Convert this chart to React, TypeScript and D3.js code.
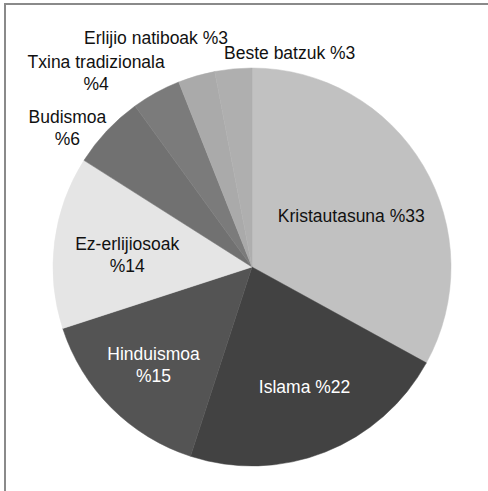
import * as d3 from 'd3';
import React from 'react';

// religions of the world, share in percent
const names = [
    'Kristautasuna',
    'Islama',
    'Hinduismoa',
    'Ez-erlijiosoak',
    'Budismoa',
    'Txina tradizionala',
    'Erlijio natiboak',
    'Beste batzuk',
];
const shares = [33, 22, 15, 14, 6, 4, 3, 3];
const fills = ['#c1c1c1', '#424242', '#545454', '#e5e5e5', '#717171', '#7b7b7b', '#aaaaaa', '#afafaf'];
const labelLines = [
    ['Kristautasuna %33'],
    ['Islama %22'],
    ['Hinduismoa', '%15'],
    ['Ez-erlijiosoak', '%14'],
    ['Budismoa', '%6'],
    ['Txina tradizionala', '%4'],
    ['Erlijio natiboak %3'],
    ['Beste batzuk %3'],
];
const whiteLabels = ['Islama', 'Hinduismoa'];

// label placement in polar form: angle (deg, clockwise from top) and radius factor
const labelAngle = [63, 156.4, 225, 275.5, 306.9, 321.2, 337.3, 10];
const labelRadius = [0.56, 0.66, 0.7, 0.63, 1.16, 1.25, 1.25, 1.09];

const width = 488;
const height = 491;
const cx = 252;
const cy = 267;
const radius = 199;
const fontSize = 17.5;
const lineHeight = 22;

const App = () => {
    const pie = d3.pie<number>().sort(null).value((d) => d);
    const arcs = pie(shares);
    const arc = d3.arc<d3.PieArcDatum<number>>().innerRadius(0).outerRadius(radius);

    return (
        <svg
            width={width}
            height={height}
            style={{ position: 'absolute', left: 0, top: 0, background: '#fff' }}
            fontFamily="'Liberation Sans', Arial, sans-serif"
            fontSize={fontSize}
        >
            <rect x={0} y={0} width={width} height={height} fill="#fff" />
            <line x1={4} x2={width} y1={4} y2={4} stroke="#8a8a8a" strokeWidth={2} />
            <line x1={5} x2={5} y1={4} y2={height} stroke="#8a8a8a" strokeWidth={2} />
            <g transform={`translate(${cx},${cy})`}>
                {arcs.map((a, i) => (
                    <path key={names[i]} d={arc(a) ?? ''} fill={fills[i]} stroke={fills[i]} strokeWidth={0.5} />
                ))}
                {arcs.map((a, i) => {
                    const ang = (labelAngle[i] * Math.PI) / 180;
                    const r = radius * labelRadius[i];
                    const x = Math.sin(ang) * r;
                    const y = -Math.cos(ang) * r;
                    const lines = labelLines[i];
                    const y0 = y - ((lines.length - 1) * lineHeight) / 2;
                    return (
                        <text
                            key={names[i]}
                            textAnchor="middle"
                            dominantBaseline="central"
                            fill={whiteLabels.includes(names[i]) ? '#ffffff' : '#111111'}
                        >
                            {lines.map((t, j) => (
                                <tspan key={j} x={x} y={y0 + j * lineHeight}>
                                    {t}
                                </tspan>
                            ))}
                        </text>
                    );
                })}
            </g>
        </svg>
    );
};

export default App;
